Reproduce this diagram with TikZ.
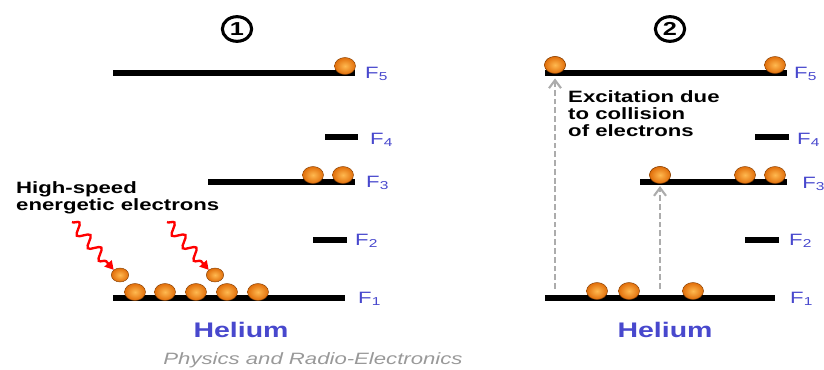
\documentclass[tikz,border=0pt]{standalone}
\usepackage{fontspec}
\setmainfont{Liberation Sans}
\newfontfamily\widesans[FakeStretch=1.35]{Liberation Sans}
\usetikzlibrary{arrows.meta,decorations.pathmorphing,shapes.geometric}
\definecolor{elorange}{RGB}{225,110,10}
\definecolor{ellight}{RGB}{255,185,80}
\definecolor{lvlblue}{RGB}{72,72,205}
\begin{document}
\begin{tikzpicture}
 [x=0.03cm,y=-0.03cm,
  lvl/.style={line width=5.5pt},
  el/.style={ellipse,shading=radial,inner color=ellight,outer color=elorange,draw=elorange!60!black,thin,inner sep=0pt,minimum width=0.63cm,minimum height=0.51cm},
  els/.style={el,minimum width=0.52cm,minimum height=0.42cm},
  flab/.style={anchor=west,inner sep=0pt,text=lvlblue,font=\widesans\fontsize{14}{16}\selectfont},
  num/.style={ellipse,draw,line width=2.6pt,inner sep=0pt,minimum width=0.88cm,minimum height=0.74cm,font=\widesans\bfseries\fontsize{16}{17}\selectfont},
  txt/.style={anchor=west,align=left,inner sep=0pt,font=\widesans\bfseries\fontsize{14}{15}\selectfont},
  he/.style={text=lvlblue,font=\widesans\bfseries\fontsize{18}{20}\selectfont},
  hit/.style={red,line width=2pt,-{Triangle[length=2.6mm,width=2.8mm]},decorate,decoration={snake,amplitude=1.6mm,segment length=5mm,post length=2.4mm}},
  exc/.style={gray!65,line width=1.8pt,dash pattern=on 5pt off 2.5pt,-{Straight Barb[length=2.4mm,width=3.6mm]}}]
 \useasboundingbox (0,0) rectangle (824,370);
 \node[num] (n1) at (237,29) {1};
 \node[num] (n2) at (670,29) {2};
 \draw[lvl] (113,73) -- (355,73);
 \draw[lvl] (325,137) -- (358,137);
 \draw[lvl] (208,182) -- (355,182);
 \draw[lvl] (313,240) -- (347,240);
 \draw[lvl] (113,298) -- (345,298);
 \node[flab] (f5a) at (365,74) {F\textsubscript{5}};
 \node[flab] (f4a) at (370,140) {F\textsubscript{4}};
 \node[flab] (f3a) at (366,183) {F\textsubscript{3}};
 \node[flab] (f2a) at (355,241) {F\textsubscript{2}};
 \node[flab] (f1a) at (358,299) {F\textsubscript{1}};
 \node[el] (a5) at (345,66) {};
 \node[el] (a3a) at (313,175) {};
 \node[el] (a3b) at (343,175) {};
 \node[el] (a1a) at (135,292) {};
 \node[el] (a1b) at (165,292) {};
 \node[el] (a1c) at (196,292) {};
 \node[el] (a1d) at (227,292) {};
 \node[el] (a1e) at (258,292) {};
 \node[els] (h1) at (120,275) {};
 \node[els] (h2) at (215,275) {};
 \node[txt] (hs) at (16,198) {High-speed\\energetic electrons};
 \coordinate (s1) at (72,222);
 \coordinate (s2) at (167,222);
 \draw[hit] (s1) -- (h1.north west);
 \draw[hit] (s2) -- (h2.north west);
 \node[he] (he1) at (241,330) {Helium};
 \node[text=gray!80,font=\widesans\itshape\fontsize{14}{16}\selectfont] (src) at (313,360) {Physics and Radio-Electronics};
 \coordinate (b0) at (555,289);
 \coordinate (c0) at (660,289);
 \node[el] (b5a) at (555,65) {};
 \node[el] (b3a) at (660,175) {};
 \draw[exc,shorten >=4pt] (b0) -- (b5a.south);
 \draw[exc,shorten >=2pt] (c0) -- (b3a.south);
 \draw[lvl] (545,73) -- (787,73);
 \draw[lvl] (755,137) -- (789,137);
 \draw[lvl] (640,182) -- (787,182);
 \draw[lvl] (745,240) -- (779,240);
 \draw[lvl] (545,298) -- (775,298);
 \node[flab] (f5b) at (794,74) {F\textsubscript{5}};
 \node[flab] (f4b) at (797,140) {F\textsubscript{4}};
 \node[flab] (f3b) at (802,184) {F\textsubscript{3}};
 \node[flab] (f2b) at (789,241) {F\textsubscript{2}};
 \node[flab] (f1b) at (790,299) {F\textsubscript{1}};
 \node[el] at (555,65) {};
 \node[el] (b5b) at (775,65) {};
 \node[el] at (660,175) {};
 \node[el] (b3b) at (745,175) {};
 \node[el] (b3c) at (775,175) {};
 \node[el] (b1a) at (597,291) {};
 \node[el] (b1b) at (629,291) {};
 \node[el] (b1c) at (693,291) {};
 \node[txt,font=\widesans\bfseries\fontsize{14}{14.5}\selectfont] (ex) at (568,114) {Excitation due\\to collision\\of electrons};
 \node[he] (he2) at (665,330) {Helium};
\end{tikzpicture}
\end{document}
